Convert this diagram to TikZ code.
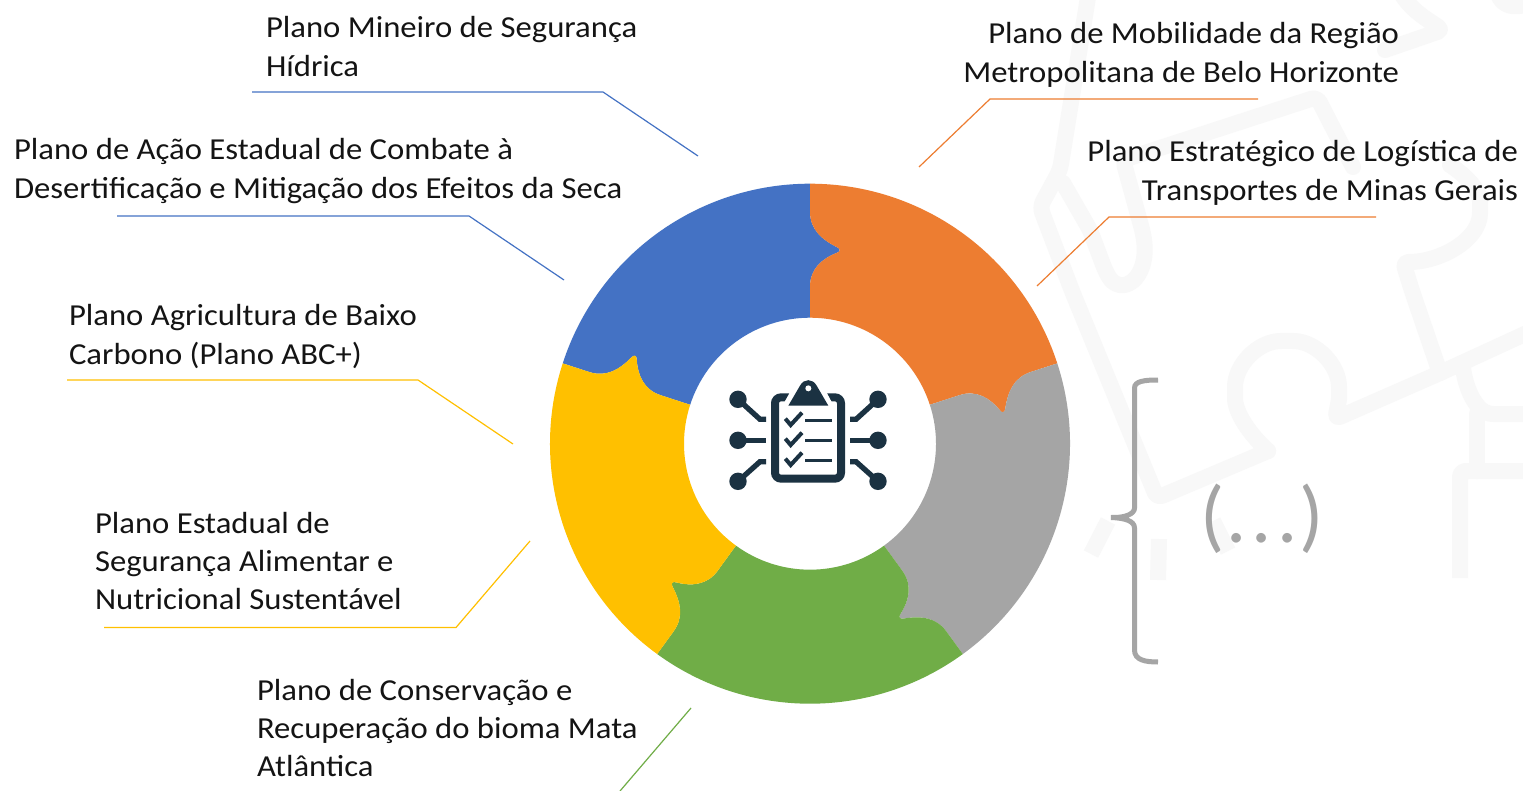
\documentclass[tikz,border=0pt]{standalone}
\usepackage{fontspec}
\setmainfont[FakeStretch=1.072]{Carlito}
\newfontfamily\morefont{Carlito}
\definecolor{cblue}{HTML}{4472C4}
\definecolor{corange}{HTML}{ED7D31}
\definecolor{cgray}{HTML}{A5A5A5}
\definecolor{cgold}{HTML}{FFC000}
\definecolor{cgreen}{HTML}{70AD47}
\definecolor{cicon}{HTML}{1B3242}
\definecolor{cwm}{HTML}{F8F8F8}
\newcommand{\toprule}{\rule{0pt}{22pt}}
\newcommand{\piecepath}{%
  (0,260) arc[start angle=90,end angle=18,radius=260]
  -- ([rotate=-72]0,232) .. controls ([rotate=-72]0,214) and ([rotate=-72]12,204) .. ([rotate=-72]27,196.5)
  .. controls ([rotate=-72]30.5,195) and ([rotate=-72]30.5,192) .. ([rotate=-72]27,191)
  .. controls ([rotate=-72]12,185) and ([rotate=-72]0,175) .. ([rotate=-72]0,157)
  -- ([rotate=-72]0,126) arc[start angle=18,end angle=90,radius=126]
  -- (0,157) .. controls (0,175) and (12,185) .. (27,191)
  .. controls (30.5,192) and (30.5,195) .. (27,196.5)
  .. controls (12,204) and (0,214) .. (0,232) -- cycle}
\tikzset{
  lab/.style={inner sep=0pt,outer sep=0pt,font=\fontsize{30.5}{38.3}\selectfont,text=black!92},
  labl/.style={lab,anchor=north west,align=left},
  labr/.style={lab,anchor=north east,align=right},
  leader/.style={line width=1.2pt},
  wm/.style={draw=cwm,line width=16pt,line join=round,line cap=round,rounded corners=6pt},
  iconline/.style={draw=cicon,line width=5.3pt},
  brace/.style={draw=cgray,line width=5pt}
}
\begin{document}
\begin{tikzpicture}[x=1pt,y=-1pt]
\useasboundingbox (0,0) rectangle (1523,791);
\fill[white] (0,0) rectangle (1523,791);
% faint watermark
\begin{scope}
\clip (0,0) rectangle (1523,791);
\draw[wm] (1090,-15) -- (1060,170) -- (1040,207) -- (1072,291) -- (1157,498) -- (1268,451);
\draw[wm] (1268,451) .. controls (1240,425) and (1235,405) .. (1235,393) .. controls (1235,365) and (1258,341) .. (1287,341) .. controls (1316,341) and (1339,365) .. (1339,393) .. controls (1339,400) and (1337,410) .. (1335,419) -- (1440,373) -- (1540,327);
\draw[wm] (1440,373) -- (1412,291) -- (1403,262) .. controls (1440,262) and (1480,240) .. (1480,207) .. controls (1480,190) and (1465,175) .. (1450,165);
\draw[wm] (1063,183) -- (1090,230) -- (1105,270) .. controls (1120,298) and (1150,280) .. (1143,233) -- (1123,160) -- (1317,97) -- (1353,167);
\draw[wm] (1397,-15) .. controls (1405,5) and (1420,15) .. (1443,30) -- (1385,50);
\draw[wm] (1495,-15) .. controls (1500,10) and (1515,10) .. (1540,0);
\draw[wm] (1463,368) .. controls (1466,390) and (1475,405) .. (1487,414) -- (1540,414);
\draw[wm] (1477,471) -- (1477,414);
\draw[wm,line cap=butt] (1460,578) -- (1460,471) -- (1540,471);
\draw[cwm,line width=16pt] (1108,521) -- (1091,554);
\draw[cwm,line width=16pt] (1159,539) -- (1158,580);
\draw[cwm,line width=16pt] (1213,521) -- (1228,551);
\end{scope}
% ring
\begin{scope}[shift={(810,443.7)},x=1pt,y=1pt]
\foreach \ang/\col/\nm in {72/cblue/pa,0/corange/pb,-72/cgray/pc,-144/cgreen/pd,-216/cgold/pe}{
  \fill[\col,rotate=\ang] \piecepath;
}
\end{scope}
% icon
\begin{scope}[shift={(680,340)},x=0.33333pt,y=-0.33333pt]
\draw[cicon,line width=8pt,rounded corners=6pt] (328,172) -- (285,172) -- (285,416) -- (483,416) -- (483,172) -- (440,172);
\fill[white] (300,210) -- (345,130) -- (425,130) -- (468,210) -- cycle;
\fill[cicon] (325,197) -- (360,137) .. controls (372,115) and (398,115) .. (410,137) -- (445,197) -- cycle;
\fill[white] (385,145) circle[radius=3pt];
\foreach \yy in {0,60,120}{
  \draw[cicon,line width=4pt] (316,236+\yy) -- (332,255+\yy) -- (366,218+\yy);
  \draw[cicon,line width=3.3pt] (375,242+\yy) -- (455,242+\yy);
}
\foreach \xa/\xb/\xc/\xd in {174/240/258/a,594/528/510/b}{
  \fill[cicon] (\xa,178) circle[radius=8.7pt];
  \fill[cicon] (\xa,301) circle[radius=8.7pt];
  \fill[cicon] (\xa,424) circle[radius=8.7pt];
  \draw[iconline] (\xa,178) -- (\xb,238) -- (\xc,238);
  \draw[iconline] (\xa,301) -- (\xc,301);
  \draw[iconline] (\xa,424) -- (\xb,365) -- (\xc,365);
}
\end{scope}
% labels
\node[labl] (t1) at (266,16) {\toprule Plano Mineiro de Segurança\\Hídrica};
\node[labl] (t2) at (14,138) {\toprule Plano de Ação Estadual de Combate à\\Desertificação e Mitigação dos Efeitos da Seca};
\node[labl] (t3) at (69,304) {\toprule Plano Agricultura de Baixo\\Carbono (Plano ABC+)};
\node[labl] (t4) at (95,511) {\toprule Plano Estadual de\\Segurança Alimentar e\\Nutricional Sustentável};
\node[labl] (t5) at (257,678) {\toprule Plano de Conservação e\\Recuperação do bioma Mata\\Atlântica};
\node[labr] (t6) at (1399,22) {\toprule Plano de Mobilidade da Região\\Metropolitana de Belo Horizonte};
\node[labr] (t7) at (1518,140) {\toprule Plano Estratégico de Logística de\\Transportes de Minas Gerais};
% leaders
\coordinate (l1a) at (252,92); \coordinate (l1b) at (603,92); \coordinate (l1c) at (698,156);
\coordinate (l2a) at (117,216); \coordinate (l2b) at (469,216); \coordinate (l2c) at (564,280);
\coordinate (l3a) at (67,380); \coordinate (l3b) at (418,380); \coordinate (l3c) at (513,444);
\coordinate (l4a) at (104,627.5); \coordinate (l4b) at (456,627.5); \coordinate (l4c) at (530,541);
\coordinate (l5a) at (620,791); \coordinate (l5b) at (691,708);
\coordinate (l6a) at (1258,99); \coordinate (l6b) at (990,99); \coordinate (l6c) at (919,167);
\coordinate (l7a) at (1376,217); \coordinate (l7b) at (1109,217); \coordinate (l7c) at (1037,286);
\draw[leader,cblue] (l1a) -- (l1b) -- (l1c);
\draw[leader,cblue] (l2a) -- (l2b) -- (l2c);
\draw[leader,cgold] (l3a) -- (l3b) -- (l3c);
\draw[leader,cgold] (l4a) -- (l4b) -- (l4c);
\draw[leader,cgreen] (l5a) -- (l5b);
\draw[leader,corange] (l6a) -- (l6b) -- (l6c);
\draw[leader,corange] (l7a) -- (l7b) -- (l7c);
% brace
\draw[brace] (1158,380) .. controls (1145,380) and (1134.5,381) .. (1134.5,388) -- (1134.5,508) .. controls (1134.5,514) and (1125,518) .. (1111,517.5) .. controls (1125,518) and (1134.5,521) .. (1134.5,528) -- (1134.5,650) .. controls (1134.5,660) and (1145,662) .. (1158,662);
\node[inner sep=0pt,anchor=base,text=cgray,font=\morefont\fontsize{80}{80}\selectfont] (more) at (1262,542) {(\kern2pt.\kern5pt.\kern5pt.\kern2pt)};
\end{tikzpicture}
\end{document}
